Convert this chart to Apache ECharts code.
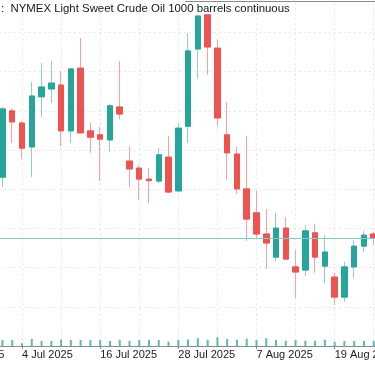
<!DOCTYPE html>
<html>
<head>
<meta charset="utf-8">
<script src="https://cdn.jsdelivr.net/npm/echarts@6/dist/echarts.min.js"></script>
<style>
html,body{margin:0;padding:0;background:#fff;overflow:hidden;width:375px;height:366px;position:relative;}
#chart{position:absolute;left:-60px;top:-10px;width:450px;height:376px;}
</style>
</head>
<body>
<div id="chart"></div>
<script>
const titleText = ":  NYMEX Light Sweet Crude Oil 1000 barrels continuous";

const dates = ["24 Jun 2025","25 Jun 2025","26 Jun 2025","27 Jun 2025","30 Jun 2025","1 Jul 2025",
  "2 Jul 2025","3 Jul 2025","4 Jul 2025","7 Jul 2025","8 Jul 2025","9 Jul 2025","10 Jul 2025","11 Jul 2025",
  "14 Jul 2025","15 Jul 2025","16 Jul 2025","17 Jul 2025","18 Jul 2025","21 Jul 2025","22 Jul 2025",
  "23 Jul 2025","24 Jul 2025","25 Jul 2025","28 Jul 2025","29 Jul 2025","30 Jul 2025","31 Jul 2025",
  "1 Aug 2025","4 Aug 2025","5 Aug 2025","6 Aug 2025","7 Aug 2025","8 Aug 2025","11 Aug 2025",
  "12 Aug 2025","13 Aug 2025","14 Aug 2025","15 Aug 2025","18 Aug 2025","19 Aug 2025","20 Aug 2025",
  "21 Aug 2025","22 Aug 2025","25 Aug 2025","26 Aug 2025"];

const N = null;
const openP = [N,N,N,N,N,N,
  66.31,68.00,67.69,67.08,68.36,68.56,68.66,67.49,69.09,67.49,67.39,67.26,68.10,66.72,66.54,66.26,66.21,66.82,
  65.96,67.61,69.58,70.45,69.60,67.39,66.90,66.01,65.40,64.86,64.27,65.01,64.02,63.94,64.89,64.04,63.76,63.25,
  64.02,64.55,64.86,N];
const closeP = [N,N,N,N,N,N,
  68.05,67.72,67.05,68.38,68.61,68.71,67.49,69.07,67.44,67.33,67.28,68.13,67.92,66.52,66.26,66.22,66.88,65.93,
  67.56,69.53,70.42,69.63,67.82,66.93,66.01,65.24,64.86,64.63,65.01,64.22,63.89,64.94,64.27,64.40,63.25,64.02,
  64.55,64.83,64.76,N];
const lowP = [N,N,N,N,N,N,
  66.06,67.18,66.77,66.31,67.84,68.20,67.10,67.18,67.41,66.93,66.21,66.95,67.79,66.06,65.73,65.65,66.16,65.91,
  65.93,67.18,68.81,68.92,67.61,66.24,65.88,64.68,64.76,63.97,64.17,64.20,63.23,63.79,63.87,63.61,63.05,63.13,
  63.74,64.40,64.58,N];
const highP = [N,N,N,N,N,N,
  68.10,68.07,67.74,68.74,69.22,69.27,69.02,69.09,69.86,67.69,67.59,68.18,69.27,67.10,66.62,66.54,67.05,67.36,
  67.69,69.99,70.45,70.47,69.81,68.23,67.08,67.36,65.96,65.50,65.40,65.29,64.45,65.09,65.12,64.83,63.87,64.15,
  64.71,64.94,64.91,N];
const volume = [N,N,N,N,N,N,
  6,6,2.7,7,5,5,6.3,6,6,6,6,5,6.3,5,6,6,6,4.3,6,
  6.5,7.7,6.3,8.7,7,6.3,7.3,6,7.7,6,5.3,6,5.3,5.3,6.3,4.3,5,5,5,5,N];
const lastPrice = 64.75;

const UP = '#26a69a', DOWN = '#ef5350';
const UP_WICK = '#8ed1ca', DOWN_WICK = '#f5a3a2';

const full = dates.map((d, i) => openP[i] == null ? ['-','-','-','-'] :
  [openP[i], closeP[i], lowP[i], highP[i]]);
const bodies = dates.map((d, i) => openP[i] == null ? ['-','-','-','-'] :
  [openP[i], closeP[i], Math.min(openP[i], closeP[i]), Math.max(openP[i], closeP[i])]);
const vol = volume.map(v => v == null ? '-' : v);

// container is shifted by (-60, -10) relative to the page
const OX = 60, OY = 10;
const step = 9.77;
const gridLeft = 22 - 8 * step + OX;
const gridWidth = (dates.length - 1) * step;
const FONT = 'Liberation Sans, Arial, sans-serif';

const chart = echarts.init(document.getElementById('chart'), null, {renderer: 'canvas'});
chart.setOption({
  animation: false,
  backgroundColor: '#ffffff',
  title: {
    text: titleText, left: OX + 1, top: OY + 3, padding: 0,
    textStyle: {fontFamily: FONT, fontSize: 11.4, fontWeight: 'normal', color: '#131722'}
  },
  graphic: [{
    type: 'line', shape: {x1: OX + 185, y1: OY + 1.5, x2: OX + 375, y2: OY + 1.5},
    style: {stroke: '#8a8a8a', lineWidth: 1}, silent: true
  }],
  grid: [
    {left: gridLeft, width: gridWidth, top: OY - 6.7, height: 352.8, containLabel: false, outerBoundsMode: 'none'},
    {left: gridLeft, width: gridWidth, top: OY + 336, height: 10, containLabel: false, outerBoundsMode: 'none'}
  ],
  xAxis: [{
    type: 'category', data: dates, boundaryGap: false, gridIndex: 0,
    axisLine: {lineStyle: {color: '#8c8c8c', width: 1}},
    axisTick: {show: true, interval: 7, length: 3, lineStyle: {color: '#8c8c8c'}},
    axisLabel: {interval: 7, align: 'left', margin: 3, hideOverlap: false, fontFamily: FONT, fontSize: 11, color: '#222'},
    splitLine: {show: true, interval: 3, lineStyle: {color: '#e6e6e6', type: [2, 3], width: 1}}
  }, {
    type: 'category', data: dates, boundaryGap: false, gridIndex: 1, show: false
  }],
  yAxis: [{
    type: 'value', gridIndex: 0, min: 62, max: 71, interval: 1, scale: true,
    axisLabel: {show: false}, axisLine: {show: false}, axisTick: {show: false},
    splitLine: {show: true, lineStyle: {color: '#e6e6e6', type: [2, 3], width: 1}}
  }, {
    type: 'value', gridIndex: 1, min: 0, max: 10, show: false, splitLine: {show: false}
  }],
  series: [{
    type: 'bar', xAxisIndex: 1, yAxisIndex: 1, data: vol, barWidth: 2,
    itemStyle: {color: UP, opacity: 0.75}, silent: true
  }, {
    type: 'candlestick', xAxisIndex: 0, yAxisIndex: 0, data: full, barWidth: 6,
    clip: false,
    itemStyle: {color: UP_WICK, color0: DOWN_WICK, borderColor: UP_WICK, borderColor0: DOWN_WICK, borderWidth: 1}
  }, {
    type: 'candlestick', xAxisIndex: 0, yAxisIndex: 0, data: bodies, barWidth: 6,
    clip: false,
    itemStyle: {color: UP, color0: DOWN, borderColor: UP, borderColor0: DOWN, borderWidth: 1},
    markLine: {
      silent: true, symbol: ['none', 'none'], label: {show: false},
      lineStyle: {color: '#80cbc4', width: 1, type: 'solid'},
      data: [{yAxis: lastPrice}]
    }
  }]
});
</script>
</body>
</html>
